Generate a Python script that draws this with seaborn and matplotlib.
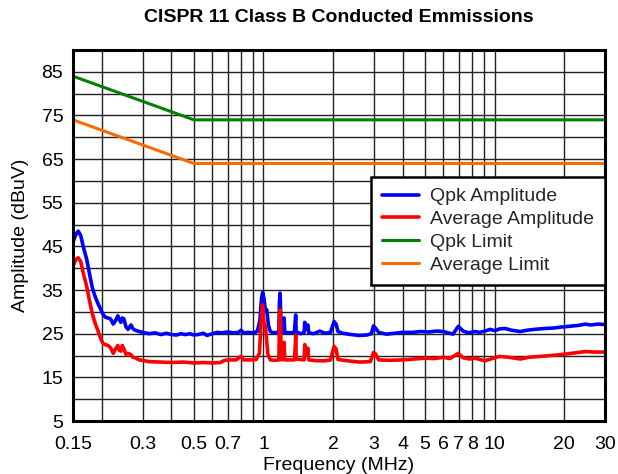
import matplotlib
matplotlib.use("Agg")
import matplotlib.pyplot as plt
import seaborn as sns

# Quasi-peak and average measurements (frequency in MHz, level in dBuV)
qpk_freq = [0.150, 0.1546, 0.158, 0.162, 0.166, 0.172, 0.1777, 0.182, 0.187, 0.192,
            0.196, 0.202, 0.207, 0.2127, 0.218, 0.224, 0.229, 0.2345, 0.238, 0.2416,
            0.245, 0.249, 0.254, 0.2594, 0.2673, 0.272, 0.2781, 0.29, 0.30, 0.32,
            0.34, 0.36, 0.38, 0.40, 0.42, 0.44, 0.46, 0.48, 0.50, 0.52,
            0.55, 0.57, 0.60, 0.63, 0.66, 0.70, 0.74, 0.78, 0.80, 0.82,
            0.86, 0.90, 0.94, 0.965, 0.98, 0.992, 1.005, 1.02, 1.033, 1.05,
            1.07, 1.10, 1.14, 1.165, 1.172, 1.179, 1.186, 1.195, 1.22, 1.228,
            1.236, 1.30, 1.36, 1.372, 1.378, 1.385, 1.45, 1.50, 1.508, 1.52,
            1.54, 1.555, 1.57, 1.65, 1.75, 1.85, 1.95, 1.99, 2.02, 2.06,
            2.10, 2.2, 2.4, 2.6, 2.8, 2.93, 2.99, 3.05, 3.15, 3.4,
            3.7, 4.0, 4.4, 4.8, 5.2, 5.6, 6.0, 6.3, 6.6, 6.96,
            7.3, 7.7, 8.22, 8.6, 9.08, 9.55, 10.0, 10.5, 11.1, 11.8,
            12.9, 13.8, 14.9, 16.5, 18.0, 19.2, 21.0, 23.0, 24.6, 26.0,
            28.0, 30.0]
qpk_amp = [46.0, 47.8, 48.5, 47.5, 45.0, 42.0, 38.1, 35.5, 33.5, 32.0,
           31.0, 29.5, 28.8, 28.6, 28.4, 27.2, 28.0, 29.1, 28.2, 27.6,
           28.6, 28.4, 26.6, 26.0, 27.0, 26.2, 25.8, 25.5, 25.3, 25.0,
           25.2, 24.8, 25.1, 24.8, 24.7, 25.0, 24.8, 25.0, 24.7, 24.8,
           25.1, 24.6, 25.0, 25.3, 25.2, 25.4, 25.2, 25.3, 25.8, 25.2,
           25.3, 25.2, 25.5, 28.0, 33.0, 34.5, 33.0, 30.2, 30.5, 27.0,
           25.5, 25.2, 25.3, 25.4, 32.0, 34.3, 30.0, 25.3, 25.5, 28.6,
           25.3, 25.2, 25.3, 28.0, 29.3, 25.4, 25.0, 25.3, 27.6, 26.5,
           26.0, 27.0, 25.2, 25.0, 25.6, 25.1, 25.3, 26.8, 27.8, 27.2,
           25.5, 25.1, 24.8, 24.6, 24.7, 25.0, 26.8, 26.3, 25.3, 24.9,
           25.1, 25.3, 25.3, 25.5, 25.4, 25.6, 25.5, 25.2, 24.9, 26.7,
           25.6, 25.2, 25.5, 25.3, 25.6, 26.0, 25.7, 26.1, 26.2, 25.8,
           25.5, 25.8, 26.0, 26.2, 26.3, 26.5, 26.7, 26.9, 27.2, 27.0,
           27.2, 27.1]

avg_freq = [0.150, 0.1546, 0.158, 0.162, 0.166, 0.172, 0.1777, 0.182, 0.187, 0.192,
            0.196, 0.202, 0.207, 0.2127, 0.218, 0.224, 0.229, 0.2345, 0.238, 0.2416,
            0.245, 0.249, 0.254, 0.2594, 0.2673, 0.272, 0.2781, 0.29, 0.30, 0.32,
            0.36, 0.40, 0.45, 0.50, 0.55, 0.60, 0.65, 0.68, 0.72, 0.76,
            0.80, 0.82, 0.88, 0.93, 0.96, 0.975, 0.99, 1.005, 1.02, 1.033,
            1.045, 1.07, 1.12, 1.165, 1.172, 1.179, 1.186, 1.195, 1.222, 1.228,
            1.236, 1.36, 1.372, 1.378, 1.385, 1.50, 1.508, 1.52, 1.54, 1.555,
            1.57, 1.7, 1.85, 1.95, 1.99, 2.02, 2.06, 2.10, 2.3, 2.6,
            2.9, 2.99, 3.05, 3.15, 3.5, 4.0, 4.5, 5.0, 5.5, 6.0,
            6.4, 6.96, 7.3, 7.8, 8.22, 9.08, 9.6, 10.5, 11.5, 12.9,
            14.0, 15.7, 17.5, 19.2, 21.5, 24.6, 27.0, 30.0]
avg_amp = [40.5, 42.0, 42.4, 41.5, 39.0, 35.8, 32.0, 29.5, 27.4, 25.8,
           24.4, 22.8, 22.5, 22.3, 21.8, 20.5, 21.5, 22.3, 21.2, 21.0,
           22.3, 21.5, 20.3, 20.5, 20.2, 19.6, 19.5, 19.0, 18.9, 18.6,
           18.5, 18.4, 18.5, 18.3, 18.4, 18.3, 18.4, 18.9, 19.0, 19.0,
           19.8, 19.0, 19.0, 19.1, 20.5, 27.0, 31.6, 27.5, 26.7, 23.2,
           20.3, 19.0, 18.9, 19.0, 27.0, 30.5, 26.0, 19.0, 19.2, 23.0,
           19.0, 19.0, 22.0, 24.7, 19.2, 19.0, 22.5, 20.5, 20.2, 21.7,
           19.0, 18.8, 18.8, 19.0, 20.8, 22.1, 21.5, 19.1, 18.8, 18.5,
           18.6, 20.7, 20.4, 19.0, 18.9, 19.0, 19.2, 19.4, 19.3, 19.6,
           19.3, 20.5, 19.5, 19.2, 19.4, 18.8, 19.2, 19.8, 19.6, 19.2,
           19.6, 19.8, 20.0, 20.2, 20.5, 20.9, 20.8, 20.8]

# CISPR 11 Class B limits (corner at 0.5 MHz)
limit_freq = [0.15, 0.5, 30.0]
qpk_limit = [84.0, 74.0, 74.0]
avg_limit = [74.0, 64.0, 64.0]

# Axis ticks
x_ticks = [0.15, 0.2, 0.3, 0.4, 0.5, 0.6, 0.7, 0.8, 0.9, 1, 2, 3, 4, 5, 6, 7, 8, 9, 10, 20, 30]
x_labels = ["0.15", "", "0.3", "", "0.5", "", "0.7", "", "", "1", "2", "3", "4", "5",
            "6", "7", "8", "", "10", "20", "30"]
y_ticks = list(range(5, 91, 5))
y_labels = [str(v) if v % 10 == 5 and v <= 85 else "" for v in y_ticks]

FS = 14

sns.set_theme(style="white")
plt.rcParams["font.family"] = ["Liberation Sans", "DejaVu Sans"]

fig = plt.figure(figsize=(6.18, 4.74), dpi=100)
ax = fig.add_axes([73 / 618, 1 - 421 / 474, 532 / 618, 371 / 474])

sns.lineplot(x=qpk_freq, y=qpk_amp, ax=ax, color="#0000FF", lw=2.6, label="Qpk Amplitude")
sns.lineplot(x=avg_freq, y=avg_amp, ax=ax, color="#FF0000", lw=2.6, label="Average Amplitude")
sns.lineplot(x=limit_freq, y=qpk_limit, ax=ax, color="#008000", lw=2.2, label="Qpk Limit")
sns.lineplot(x=limit_freq, y=avg_limit, ax=ax, color="#FF6A00", lw=2.2, label="Average Limit")

ax.set_xscale("log")
ax.set_xlim(0.15, 30)
ax.set_ylim(5, 90)
ax.set_xticks(x_ticks)
ax.set_xticklabels(x_labels)
ax.minorticks_off()
ax.set_yticks(y_ticks)
ax.set_yticklabels(y_labels)
ax.tick_params(axis="x", length=0, pad=11, labelsize=FS, colors="black")
ax.tick_params(axis="y", length=0, pad=7, labelsize=FS, colors="black")
ax.grid(True, color="#222222", lw=1.0)
ax.set_axisbelow(True)

for side in ax.spines.values():
    side.set_visible(True)
    side.set_color("black")
    side.set_linewidth(2.2)

ax.set_xlabel("Frequency (MHz)", fontsize=FS, color="black")
ax.set_ylabel("Amplitude (dBuV)", fontsize=FS, color="black")
ax.xaxis.set_label_coords(0.5, -(457 - 421) / 371)
ax.yaxis.set_label_coords(-(73 - 29) / 532, 0.5)

ax.text(0.5, 1 + (50 - 17) / 371, "CISPR 11 Class B Conducted Emmissions",
        transform=ax.transAxes, ha="center", va="center",
        fontsize=FS, fontweight="bold", color="black")

leg = ax.legend(loc="upper right", bbox_to_anchor=(605 / 618, 1 - 177 / 474),
                bbox_transform=fig.transFigure, borderaxespad=0,
                fontsize=FS, frameon=True, fancybox=False, shadow=False,
                handlelength=1.9, handletextpad=0.6, labelspacing=0.27,
                borderpad=0.55)
frame = leg.get_frame()
frame.set_edgecolor("black")
frame.set_linewidth(1.8)
frame.set_facecolor("white")
frame.set_alpha(1.0)

fig.savefig("out.png", dpi=100, facecolor="white")
